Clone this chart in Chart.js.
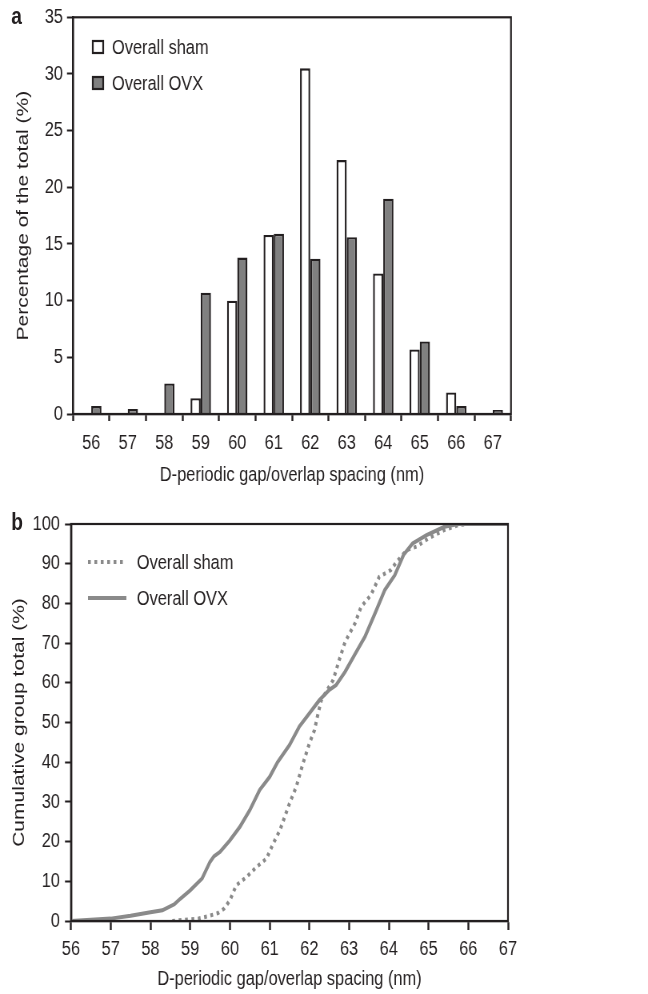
<!DOCTYPE html>
<html lang="en">
<head>
  <meta charset="UTF-8" />
  <title>D-periodic spacing</title>
  <style>
    html, body {
      margin: 0;
      width: 648px;
      height: 994px;
      overflow: hidden;
      background: #fff;
      font-family: "Liberation Sans", Arial, sans-serif;
      color: #231f20;
    }
    /* the figure is drawn 810 wide and squeezed to 648, like the narrow lettering of the original */
    .wrap {
      position: relative;
      width: 810px;
      height: 994px;
      transform: scaleX(0.8);
      transform-origin: 0 0;
    }
    canvas {
      position: absolute;
      left: 0;
    }
    #histChart { top: 0; }
    #cumChart { top: 490px; }
    .panel {
      position: absolute;
      left: 14px;
      font-weight: bold;
      font-size: 24px;
      line-height: 1;
    }
  </style>
</head>
<body>
  <div class="wrap">
    <canvas id="histChart" width="810" height="490"></canvas>
    <canvas id="cumChart" width="810" height="504"></canvas>
    <div class="panel" style="top:4px;">a</div>
    <div class="panel" style="top:510px;">b</div>
  </div>

  <script src="https://cdn.jsdelivr.net/npm/chart.js"></script>
  <script>
    // panel a: histogram
    const spacing = ["56", "57", "58", "59", "60", "61", "62", "63", "64", "65", "66", "67"];
    const shamPct = [0, 0, 0, 1.4, 10.0, 15.8, 30.5, 22.4, 12.4, 5.7, 1.9, 0];
    const ovxPct = [0.7, 0.45, 2.7, 10.7, 13.8, 15.9, 13.7, 15.6, 19.0, 6.4, 0.7, 0.35];

    // panel b: cumulative curves (nm, %)
    const shamCumX = [58.55, 58.85, 59.2, 59.45, 59.7, 59.85, 60.0, 60.16, 60.42, 60.67, 60.92, 61.09, 61.26, 61.5, 61.67, 61.84, 62.0, 62.13, 62.2, 62.3, 62.45, 62.6, 62.75, 62.9, 63.15, 63.3, 63.55, 63.76, 64.05, 64.2, 64.45, 64.7, 65.0, 65.4, 65.75, 66, 67];
    const shamCumY = [0, 0.3, 0.6, 1.2, 2.0, 3.1, 5.2, 9.0, 11.1, 13.6, 15.7, 19.5, 22.9, 29.6, 33.8, 39.7, 44.7, 48.1, 51.4, 55.6, 58.2, 60.7, 65.7, 70.3, 75, 79.1, 82.1, 86.7, 88.4, 90.5, 93.4, 94.3, 96.4, 98.5, 99.7, 100, 100];
    const ovxCumX = [56, 57, 57.5, 58, 58.3, 58.6, 58.75, 59, 59.3, 59.5, 59.6, 59.75, 60, 60.25, 60.5, 60.75, 61, 61.2, 61.5, 61.75, 62, 62.25, 62.5, 62.67, 62.9, 63.16, 63.4, 63.67, 63.9, 64.15, 64.37, 64.6, 64.95, 65.4, 65.75, 67];
    const ovxCumY = [0, 0.6, 1.3, 2.2, 2.7, 4.2, 5.6, 7.7, 10.7, 14.9, 16.3, 17.4, 20.3, 23.7, 27.9, 33, 36.3, 40, 44.3, 49, 52.3, 55.6, 58.2, 59.4, 62.8, 67.4, 71.6, 77.9, 83.4, 87.1, 92.2, 95.1, 97.2, 99.3, 100, 100];

    const ink = "#231f20";
    const curveGrey = "#8a8a8a";
    const font = { family: "'Liberation Sans', Arial, sans-serif", size: 20.5 };
    const titleFontY = { family: "'Liberation Sans', Arial, sans-serif", size: 21 };
    const lh = font.size * 1.2 / 2;

    const toPoints = (xs, ys) => xs.map((x, i) => ({ x: x, y: ys[i] }));

    // box round the plot area
    const framePlugin = {
      id: "frame",
      afterDraw(chart) {
        const { ctx, chartArea: a } = chart;
        ctx.save();
        ctx.strokeStyle = ink;
        ctx.lineWidth = 2.2;
        ctx.strokeRect(a.left, a.top, a.right - a.left, a.bottom - a.top);
        ctx.restore();
      }
    };

    // legend drawn inside the plot
    const insideLegend = {
      id: "insideLegend",
      afterDraw(chart, args, opts) {
        const ctx = chart.ctx;
        ctx.save();
        ctx.font = font.size + "px " + font.family;
        ctx.textBaseline = "middle";
        chart.data.datasets.forEach((ds, i) => {
          const y = opts.y + i * opts.gap;
          if (opts.kind === "box") {
            ctx.fillStyle = ds.backgroundColor;
            ctx.fillRect(opts.x, y - 6, 13, 12);
            ctx.strokeStyle = ds.borderColor;
            ctx.lineWidth = 2.2;
            ctx.strokeRect(opts.x, y - 6, 13, 12);
          } else {
            ctx.strokeStyle = ds.borderColor;
            ctx.lineWidth = ds.borderWidth;
            ctx.setLineDash(ds.borderDash || []);
            ctx.beginPath();
            ctx.moveTo(opts.x, y);
            ctx.lineTo(opts.x + opts.len, y);
            ctx.stroke();
            ctx.setLineDash([]);
          }
          ctx.fillStyle = ink;
          ctx.fillText(ds.label, opts.textX, y + 1);
        });
        ctx.restore();
      }
    };

    const histChart = new Chart(document.getElementById("histChart"), {
      type: "bar",
      data: {
        labels: spacing,
        datasets: [
          {
            label: "Overall sham",
            data: shamPct,
            backgroundColor: "#ffffff",
            borderColor: ink,
            borderWidth: 2.4,
            categoryPercentage: 0.56,
            barPercentage: 1
          },
          {
            label: "Overall OVX",
            data: ovxPct,
            backgroundColor: "#808080",
            borderColor: ink,
            borderWidth: 2.4,
            categoryPercentage: 0.56,
            barPercentage: 1
          }
        ]
      },
      options: {
        responsive: false,
        animation: false,
        devicePixelRatio: 1,
        layout: { padding: { top: 17, right: 171.25, left: 0, bottom: 0 } },
        plugins: {
          legend: { display: false },
          tooltip: { enabled: false },
          insideLegend: { kind: "box", x: 116, y: 47, gap: 36, textX: 140 }
        },
        scales: {
          x: {
            afterFit: (s) => { s.height = 76; },
            grid: { offset: true, drawOnChartArea: false, tickLength: 7, tickColor: ink, tickWidth: 2.4 },
            border: { color: ink, width: 2.2 },
            ticks: { font: font, color: ink, padding: 443.5 - 421 - lh },
            title: { display: true, text: "D-periodic gap/overlap spacing (nm)", font: font, color: ink, padding: { bottom: 15 - lh } }
          },
          y: {
            min: 0,
            max: 35,
            afterFit: (s) => { s.width = 91.25; },
            grid: { drawOnChartArea: false, tickLength: 7.5, tickColor: ink, tickWidth: 2 },
            border: { color: ink, width: 2.4 },
            ticks: { stepSize: 5, font: font, color: ink, padding: 5 },
            title: { display: true, text: "Percentage of the total (%)", font: titleFontY, color: ink, padding: { top: 16.8 } }
          }
        }
      },
      plugins: [framePlugin, insideLegend]
    });

    const cumChart = new Chart(document.getElementById("cumChart"), {
      type: "line",
      data: {
        datasets: [
          {
            label: "Overall sham",
            data: toPoints(shamCumX, shamCumY),
            borderColor: curveGrey,
            borderWidth: 4,
            borderDash: [3.5, 4.5],
            pointRadius: 0,
            tension: 0
          },
          {
            label: "Overall OVX",
            data: toPoints(ovxCumX, ovxCumY),
            borderColor: curveGrey,
            borderWidth: 4,
            pointRadius: 0,
            tension: 0
          }
        ]
      },
      options: {
        responsive: false,
        animation: false,
        devicePixelRatio: 1,
        layout: { padding: { top: 34, right: 175, left: 0, bottom: 0 } },
        plugins: {
          legend: { display: false },
          tooltip: { enabled: false },
          insideLegend: { kind: "line", x: 110, len: 48, y: 72, gap: 36, textX: 171 }
        },
        scales: {
          x: {
            type: "linear",
            min: 56,
            max: 67,
            afterFit: (s) => { s.height = 73; },
            grid: { drawOnChartArea: false, tickLength: 9, tickColor: ink, tickWidth: 2.4 },
            border: { color: ink, width: 2.2 },
            ticks: { stepSize: 1, font: font, color: ink, padding: 459 - 440 - lh },
            title: { display: true, text: "D-periodic gap/overlap spacing (nm)", font: font, color: ink, padding: { bottom: 15 - lh } }
          },
          y: {
            min: 0,
            max: 100,
            afterFit: (s) => { s.width = 88.75; },
            grid: { drawOnChartArea: false, tickLength: 7.5, tickColor: ink, tickWidth: 2 },
            border: { color: ink, width: 2.4 },
            ticks: { stepSize: 10, font: font, color: ink, padding: 6.25 },
            title: { display: true, text: "Cumulative group total (%)", font: titleFontY, color: ink, padding: { top: 11.8 } }
          }
        }
      },
      plugins: [framePlugin, insideLegend]
    });
  </script>
</body>
</html>
